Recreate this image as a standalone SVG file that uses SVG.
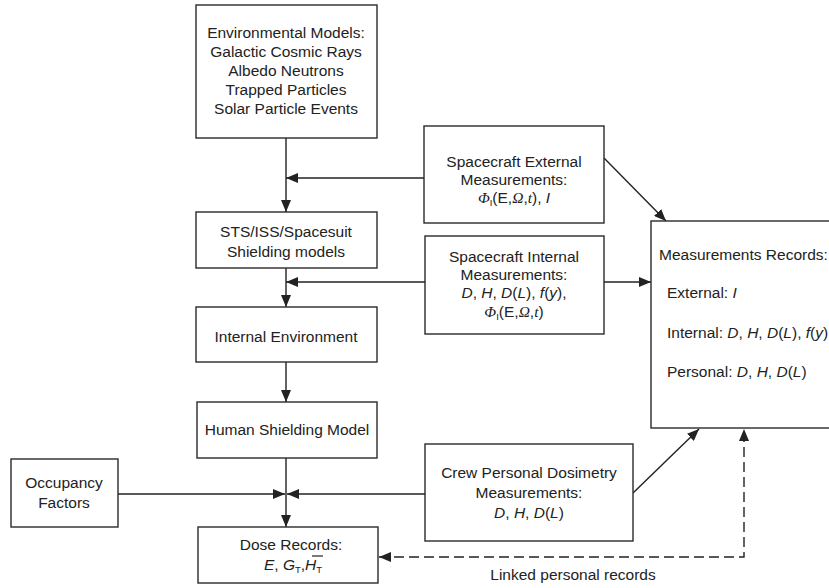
<svg xmlns="http://www.w3.org/2000/svg" width="829" height="588" viewBox="0 0 829 588">
<defs>
<style>
.box{fill:#fff;stroke:#2a2a2a;stroke-width:1.4}
.t{font-family:"Liberation Sans",Arial,sans-serif;font-size:15.5px;fill:#222}
.c{text-anchor:middle}
.i{font-style:italic}
.g{font-family:"Liberation Serif","Times New Roman",serif;font-style:italic}
.sub{font-size:9.5px}
.ln{fill:none;stroke:#222;stroke-width:1.4}
.dash{fill:none;stroke:#222;stroke-width:1.4;stroke-dasharray:10 5}
</style>
<marker id="ah" viewBox="0 0 12 10" refX="12" refY="5" markerWidth="12" markerHeight="10" markerUnits="userSpaceOnUse" orient="auto-start-reverse">
<path d="M0,0 L12,5 L0,10 Z" fill="#222"/>
</marker>
</defs>
<rect width="829" height="588" fill="#fff"/>

<g id="connectors">
<line class="ln" x1="286" y1="138" x2="286" y2="212" marker-end="url(#ah)"/>
<line class="ln" x1="424" y1="178" x2="286" y2="178" marker-end="url(#ah)"/>
<line class="ln" x1="286" y1="268" x2="286" y2="307" marker-end="url(#ah)"/>
<line class="ln" x1="425" y1="282" x2="286" y2="282" marker-end="url(#ah)"/>
<line class="ln" x1="286" y1="362" x2="286" y2="402" marker-end="url(#ah)"/>
<line class="ln" x1="286" y1="458" x2="286" y2="527" marker-end="url(#ah)"/>
<line class="ln" x1="118" y1="494" x2="285" y2="494" marker-end="url(#ah)"/>
<line class="ln" x1="425" y1="494" x2="287" y2="494" marker-end="url(#ah)"/>
<line class="ln" x1="604" y1="282" x2="651" y2="282" marker-end="url(#ah)"/>
<line class="ln" x1="604" y1="158" x2="666" y2="221" marker-end="url(#ah)"/>
<line class="ln" x1="633" y1="493" x2="699" y2="429" marker-end="url(#ah)"/>
<path class="dash" d="M379,557 H744 V429" marker-start="url(#ah)" marker-end="url(#ah)"/>
<text class="t c" x="573" y="580">Linked personal records</text>
</g>

<g id="env-models">
<rect class="box" x="196" y="5" width="181" height="133"/>
<text class="t c" x="286" y="38">Environmental Models:</text>
<text class="t c" x="286" y="57">Galactic Cosmic Rays</text>
<text class="t c" x="286" y="76">Albedo Neutrons</text>
<text class="t c" x="286" y="95">Trapped Particles</text>
<text class="t c" x="286" y="114">Solar Particle Events</text>
</g>

<g id="sc-external">
<rect class="box" x="424" y="126" width="180" height="97"/>
<text class="t c" x="514" y="167">Spacecraft External</text>
<text class="t c" x="514" y="185">Measurements:</text>
<text class="t c" x="514" y="203"><tspan class="g">Φ</tspan><tspan class="sub" dy="3">I</tspan><tspan dy="-3">(E,</tspan><tspan class="g">Ω</tspan>,<tspan class="g">t</tspan>), <tspan class="i">I</tspan></text>
</g>

<g id="shielding">
<rect class="box" x="196" y="212" width="181" height="56"/>
<text class="t c" x="286" y="237">STS/ISS/Spacesuit</text>
<text class="t c" x="286" y="257">Shielding models</text>
</g>

<g id="sc-internal">
<rect class="box" x="425" y="236" width="179" height="98"/>
<text class="t c" x="514" y="262">Spacecraft Internal</text>
<text class="t c" x="514" y="280">Measurements:</text>
<text class="t c" x="514" y="298"><tspan class="i">D</tspan>, <tspan class="i">H</tspan>, <tspan class="i">D</tspan>(<tspan class="i">L</tspan>), <tspan class="i">f</tspan>(<tspan class="i">y</tspan>),</text>
<text class="t c" x="514" y="317"><tspan class="g">Φ</tspan><tspan class="sub" dy="3">I</tspan><tspan dy="-3">(E,</tspan><tspan class="g">Ω</tspan>,<tspan class="g">t</tspan>)</text>
</g>

<g id="meas-records">
<rect class="box" x="651" y="221" width="200" height="207"/>
<text class="t" x="659" y="260">Measurements Records:</text>
<text class="t" x="667" y="298">External: <tspan class="i">I</tspan></text>
<text class="t" x="667" y="338">Internal: <tspan class="i">D</tspan>, <tspan class="i">H</tspan>, <tspan class="i">D</tspan>(<tspan class="i">L</tspan>), <tspan class="i">f</tspan>(<tspan class="i">y</tspan>)</text>
<text class="t" x="667" y="377">Personal: <tspan class="i">D</tspan>, <tspan class="i">H</tspan>, <tspan class="i">D</tspan>(<tspan class="i">L</tspan>)</text>
</g>

<g id="internal-env">
<rect class="box" x="196" y="307" width="181" height="55"/>
<text class="t c" x="286" y="342">Internal Environment</text>
</g>

<g id="human-model">
<rect class="box" x="197" y="402" width="180" height="56"/>
<text class="t c" x="287" y="435">Human Shielding Model</text>
</g>

<g id="occupancy">
<rect class="box" x="11" y="459" width="107" height="68"/>
<text class="t c" x="64" y="488">Occupancy</text>
<text class="t c" x="64" y="508">Factors</text>
</g>

<g id="crew-dosimetry">
<rect class="box" x="425" y="444" width="208" height="97"/>
<text class="t c" x="529" y="478">Crew Personal Dosimetry</text>
<text class="t c" x="529" y="498">Measurements:</text>
<text class="t c" x="529" y="518"><tspan class="i">D</tspan>, <tspan class="i">H</tspan>, <tspan class="i">D</tspan>(<tspan class="i">L</tspan>)</text>
</g>

<g id="dose-records">
<rect class="box" x="198" y="527" width="180" height="56"/>
<text class="t c" x="291" y="550">Dose Records:</text>
<text class="t c" x="293" y="570"><tspan class="i">E</tspan>, <tspan class="i">G</tspan><tspan class="sub" dy="3">T</tspan><tspan dy="-3">,</tspan><tspan class="i">H</tspan><tspan class="sub" dy="3">T</tspan></text>
<line x1="312" y1="556" x2="323" y2="556" stroke="#222" stroke-width="1.2"/>
</g>
</svg>
